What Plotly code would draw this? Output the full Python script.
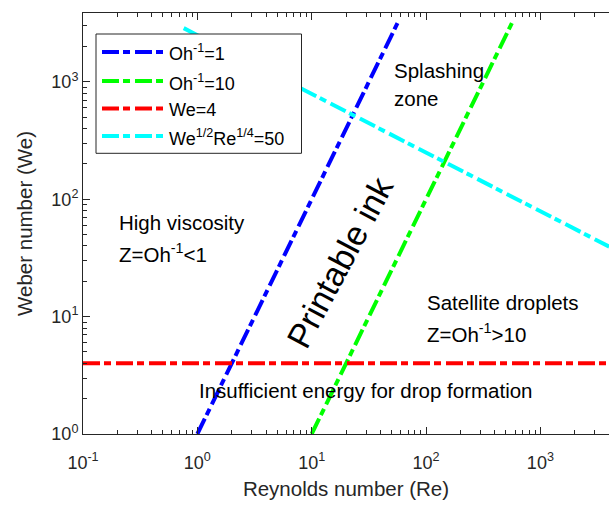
import plotly.graph_objects as go

# Data (line endpoints; straight lines on log-log axes)
oh1_re = [1, 58]
oh1_we = [1, 3364]
oh10_re = [10, 575]
oh10_we = [1, 3300]
we4_re = [0.1, 4000]
we4_we = [4, 4]
splash_re = [0.76, 4000]
splash_we = [2870, 39.5]

names = ["Oh<sup>-1</sup>=1", "Oh<sup>-1</sup>=10", "We=4", "We<sup>1/2</sup>Re<sup>1/4</sup>=50"]
colors = ["#0000FF", "#00FF00", "#FF0000", "#00FFFF"]

x_tickvals = [0.1, 1, 10, 100, 1000]
x_ticktext = ["10<sup>-1</sup>", "10<sup>0</sup>", "10<sup>1</sup>", "10<sup>2</sup>", "10<sup>3</sup>"]
y_tickvals = [1, 10, 100, 1000]
y_ticktext = ["10<sup>0</sup>", "10<sup>1</sup>", "10<sup>2</sup>", "10<sup>3</sup>"]
x_minor = [m * 10.0 ** e for e in range(-1, 4) for m in range(2, 10)]
y_minor = [m * 10.0 ** e for e in range(0, 4) for m in range(2, 10)]

FONT = "Liberation Sans, Arial, Helvetica, sans-serif"
AX = "#262626"
DASH = "17px,4px,7px,5px"
LW = 4

W, H = 609, 506
L, T, B = 83, 13, 72
pw, ph = W - L, H - T - B
def px(xp): return (xp - L) / pw
def py(yp): return (H - B - yp) / ph

fig = go.Figure()
data = [(oh1_re, oh1_we), (oh10_re, oh10_we), (we4_re, we4_we), (splash_re, splash_we)]
for (xs, ys), name, col in zip(data, names, colors):
    fig.add_trace(go.Scatter(x=xs, y=ys, mode="lines", name=name, showlegend=False,
                             line=dict(color=col, width=LW, dash=DASH)))

def ann(x, y, text, size=20.5, xanchor="left", angle=0):
    fig.add_annotation(x=x, y=y, xref="paper", yref="paper", text=text,
                       showarrow=False, xanchor=xanchor, yanchor="middle",
                       textangle=angle, font=dict(family=FONT, size=size, color="black"))

# legend box (drawn to match the reference's wide line samples)
fig.add_shape(type="rect", xref="paper", yref="paper",
              x0=px(96), x1=px(301.5), y0=py(153.3), y1=py(34),
              fillcolor="white", line=dict(color=AX, width=1), layer="above")
rows = [52, 81, 108.5, 136]
for r, name, col in zip(rows, names, colors):
    fig.add_shape(type="line", xref="paper", yref="paper",
                  x0=px(102), x1=px(164), y0=py(r), y1=py(r),
                  line=dict(color=col, width=LW, dash=DASH), layer="above")
    ann(px(167), py(r + 1), name, size=18)

ann(px(392), py(70), "Splashing")
ann(px(392), py(98), "zone")
ann(px(117), py(222), "High viscosity")
ann(px(117), py(253), "Z=Oh<sup>-1</sup>&lt;1")
ann(px(425), py(302), "Satellite droplets")
ann(px(425), py(333), "Z=Oh<sup>-1</sup>&gt;10")
ann(px(366), py(390), "Insufficient energy for drop formation", xanchor="center")
ann(px(340), py(262), "Printable ink", size=34, xanchor="center", angle=-62)

fig.update_layout(
    width=W, height=H,
    margin=dict(l=L, r=0, t=T, b=B),
    plot_bgcolor="white", paper_bgcolor="white",
    font=dict(family=FONT, size=18, color=AX),
    showlegend=False,
    xaxis=dict(type="log", range=[-1, 3.6], showgrid=False, zeroline=False,
               automargin=False,
               showline=True, linecolor=AX, linewidth=1, mirror="allticks",
               ticks="inside", ticklen=7, tickcolor=AX, ticklabelstandoff=12,
               tickvals=x_tickvals, ticktext=x_ticktext,
               minor=dict(ticks="inside", ticklen=4, tickcolor=AX, showgrid=False,
                          tickvals=x_minor),
               title=dict(text="Reynolds number (Re)", font=dict(size=20.5, color=AX), standoff=10)),
    yaxis=dict(type="log", range=[0, 3.587], showgrid=False, zeroline=False,
               automargin=False,
               showline=True, linecolor=AX, linewidth=1, mirror=False,
               ticks="inside", ticklen=7, tickcolor=AX,
               tickvals=y_tickvals, ticktext=y_ticktext,
               minor=dict(ticks="inside", ticklen=4, tickcolor=AX, showgrid=False,
                          tickvals=y_minor),
               title=dict(text="Weber number (We)", font=dict(size=20.5, color=AX), standoff=13)),
)

fig.write_html("out.html", config={"displayModeBar": False},
               post_script="document.body.style.margin='0';document.body.style.overflow='hidden';")
